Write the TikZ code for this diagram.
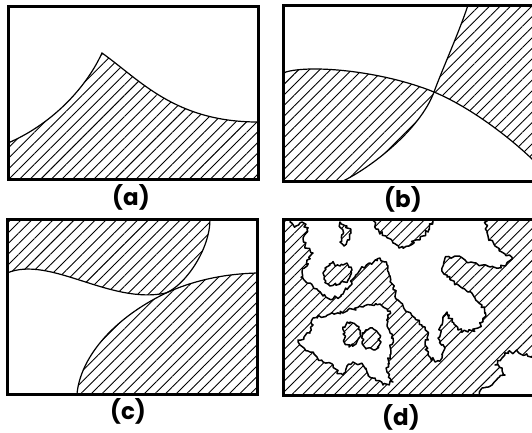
\documentclass[tikz,border=0pt]{standalone}
\usepackage{fontspec}
\newfontfamily\labelfont{Poppins}
\usetikzlibrary{patterns.meta, decorations.pathmorphing}

\begin{document}
\begin{tikzpicture}[
    x=1pt, y=-1pt,
    frame/.style={draw=black, line width=3pt},
    hatch/.style={pattern={Lines[angle=45, distance=7.5pt, line width=0.9pt]}, pattern color=black},
    curve/.style={draw=black, line width=1.2pt},
    rough/.style={decorate, decoration={random steps, segment length=2.4pt, amplitude=1.9pt}},
    blob/.style={rough, fill=white, draw=black, line width=1.5pt, line join=round},
    island/.style={rough, hatch, draw=black, line width=1.5pt, line join=round},
    panellabel/.style={font=\labelfont\bfseries\fontsize{23}{25}\selectfont, inner sep=0pt}
]
\useasboundingbox (0,0) rectangle (532,432);
\clip (0,0) rectangle (532,432);
\pgfmathsetseed{12}

% Panel (a)
\path[hatch] (8,143) .. controls (50,125) and (85,90) .. (102,53) .. controls (140,80) and (175,122) .. (258,122) -- (258,179) -- (8,179) -- cycle;
\path[curve] (8,143) .. controls (50,125) and (85,90) .. (102,53) .. controls (140,80) and (175,122) .. (258,122);
\draw[frame] (8,6) rectangle (258,179);
\node[panellabel] (labA) at (131,197) {(a)};

% Panel (b)
\path[hatch] (283,73) .. controls (305,64) and (380,70) .. (434,92) .. controls (420,130) and (370,168) .. (343,181) -- (283,181) -- cycle;
\path[hatch] (434,92) .. controls (442,70) and (460,30) .. (468,5) -- (545,5) -- (545,172) .. controls (515,140) and (470,107) .. (434,92) -- cycle;
\path[curve] (283,73) .. controls (305,64) and (380,70) .. (434,92) .. controls (470,107) and (515,140) .. (545,172);
\path[curve] (343,181) .. controls (370,168) and (420,130) .. (434,92) .. controls (442,70) and (460,30) .. (468,5);
\draw[frame] (283,5) rectangle (545,181);
\node[panellabel] (labB) at (403,199) {(b)};

% Panel (c)
\path[hatch] (7,273) .. controls (50,255) and (110,305) .. (166,293) .. controls (185,285) and (210,250) .. (210,219) -- (7,219) -- cycle;
\path[hatch] (257,273) .. controls (220,274) and (190,282) .. (166,293) .. controls (110,320) and (80,360) .. (77,394) -- (257,394) -- cycle;
\path[curve] (7,273) .. controls (50,255) and (110,305) .. (166,293) .. controls (185,285) and (210,250) .. (210,219);
\path[curve] (257,273) .. controls (220,274) and (190,282) .. (166,293) .. controls (110,320) and (80,360) .. (77,394);
\draw[frame] (7,219) rectangle (257,394);
\node[panellabel] (labC) at (128,411) {(c)};

% Panel (d)
\begin{scope}
  \clip (283,219) rectangle (545,395);
  \fill[hatch] (283,219) rectangle (545,395);
  % white clusters
  \path[blob] (290,214) -- (290,222) -- (296,226) -- (302,222) -- (307,229) -- (303,238) -- (305,246) -- (313,253) -- (307,260) -- (307,266) -- (302,272) -- (303,278) -- (310,283) -- (317,289) -- (323,296) -- (333,299) -- (343,294) -- (349,287) -- (353,279) -- (360,270) -- (370,263) -- (380,258) -- (387,265) -- (390,276) -- (393,288) -- (398,300) -- (405,310) -- (415,318) -- (422,325) -- (428,335) -- (425,345) -- (428,355) -- (435,362) -- (442,358) -- (445,348) -- (438,338) -- (442,325) -- (447,312) -- (452,322) -- (458,330) -- (468,332) -- (478,328) -- (486,316) -- (482,305) -- (475,298) -- (468,292) -- (457,284) -- (447,277) -- (442,268) -- (445,258) -- (455,256) -- (465,260) -- (475,263) -- (490,267) -- (505,266) -- (512,259) -- (505,254) -- (495,246) -- (488,236) -- (485,214) -- (433,214) -- (433,221) -- (429,229) -- (423,236) -- (416,240) -- (409,246) -- (399,248) -- (393,243) -- (386,236) -- (376,229) -- (373,214) -- cycle;
  \path[blob] (313,318) -- (330,314) -- (347,311) -- (363,307) -- (380,304) -- (390,311) -- (387,325) -- (393,338) -- (390,355) -- (387,372) -- (393,382) -- (383,385) -- (373,378) -- (367,372) -- (363,365) -- (353,362) -- (347,366) -- (343,375) -- (337,372) -- (333,365) -- (323,362) -- (317,357) -- (310,352) -- (300,345) -- (298,340) -- (304,337) -- (310,333) -- (313,325) -- cycle;
  \path[blob] (477,400) -- (482,388) -- (492,385) -- (498,378) -- (505,375) -- (502,368) -- (495,365) -- (502,358) -- (508,352) -- (518,352) -- (525,355) -- (545,358) -- (545,400) -- cycle;
  % hatched islands
  \path[island] (340,222) -- (347,226) -- (351,233) -- (349,240) -- (344,246) -- (340,242) -- (343,234) -- cycle;
  \path[island] (325,268) -- (332,263) -- (340,266) -- (347,263) -- (352,270) -- (348,280) -- (340,284) -- (330,286) -- (324,279) -- cycle;
  \path[island] (343,327) -- (350,322) -- (357,326) -- (360,334) -- (356,344) -- (349,347) -- (344,340) -- cycle;
  \path[island] (362,333) -- (370,328) -- (378,333) -- (381,342) -- (375,350) -- (366,349) -- (362,342) -- cycle;
\end{scope}
\draw[frame] (283,219) rectangle (545,395);
\node[panellabel] (labD) at (401,417) {(d)};

\end{tikzpicture}
\end{document}
